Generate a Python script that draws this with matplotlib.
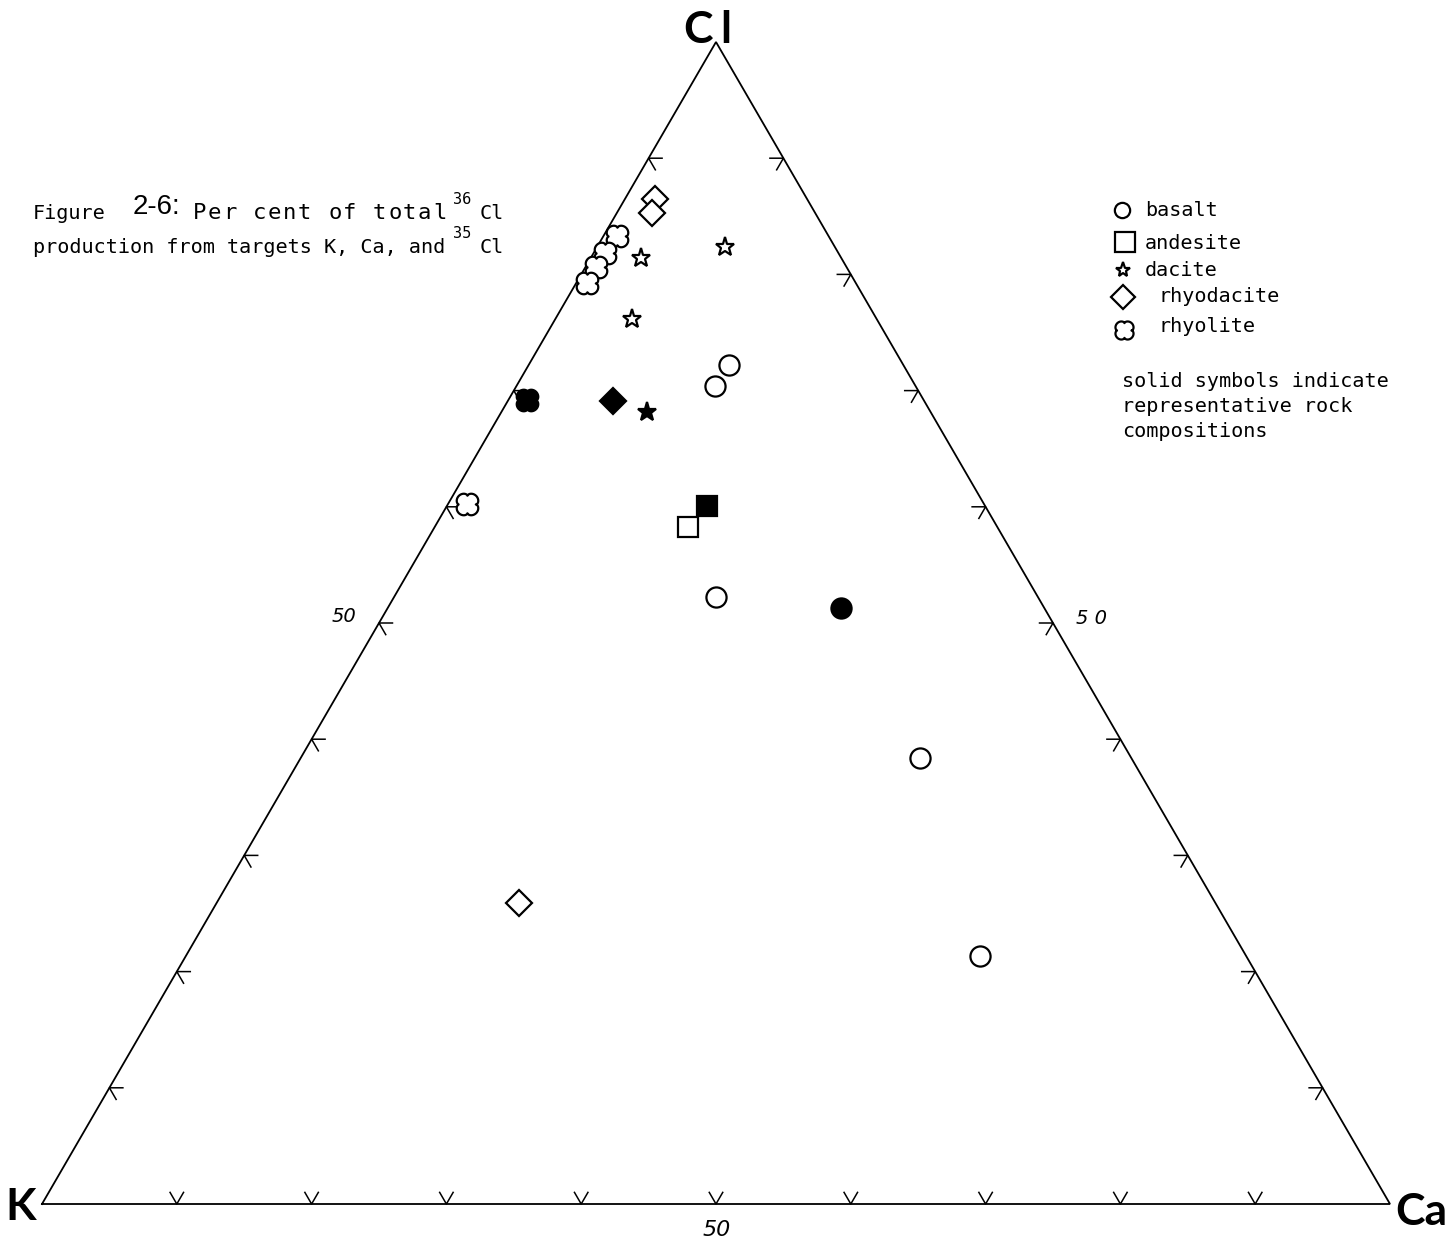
"""
Ternary plot: per cent of total 36Cl production from K, Ca and 35Cl targets
for a set of volcanic rock compositions.
"""
import numpy as np
import matplotlib
matplotlib.use("Agg")
import matplotlib.pyplot as plt
from matplotlib.path import Path

W, H = 1451, 1243

# per cent of production (K, Ca, Cl); open symbols are samples,
# the *_rep values are the representative compositions (solid symbols)
basalt_K = [12.9, 14.9, 23.9, 15.7, 19.8]
basalt_Ca = [14.9, 14.7, 23.9, 45.9, 58.9]
basalt_Cl = [72.2, 70.4, 52.2, 38.4, 21.3]
basalt_rep = (15.1, 33.6, 51.3)

andesite_K = [22.9]
andesite_Ca = [18.8]
andesite_Cl = [58.3]
andesite_rep = (20.6, 19.3, 60.1)

dacite_K = [8.1, 14.9, 18.1]
dacite_Ca = [9.5, 3.7, 5.7]
dacite_Cl = [82.4, 81.4, 76.2]
dacite_rep = (21.0, 10.8, 68.2)

rhyodacite_K = [11.3, 12.1, 51.7]
rhyodacite_Ca = [2.2, 2.6, 22.4]
rhyodacite_Cl = [86.5, 85.3, 25.9]
rhyodacite_rep = (23.1, 7.8, 69.1)

rhyolite_K = [15.7, 17.3, 18.6, 19.9, 38.4]
rhyolite_Ca = [1.0, 0.9, 0.8, 0.8, 1.4]
rhyolite_Cl = [83.3, 81.8, 80.6, 79.3, 60.2]
rhyolite_rep = (29.4, 1.4, 69.2)

TICKS = [10, 20, 30, 40, 50, 60, 70, 80, 90]
ROCKS = ["basalt", "andesite", "dacite", "rhyodacite", "rhyolite"]

S3 = np.sqrt(3) / 2


def tern(k, ca, cl):
    k, ca, cl = (np.asarray(v, float) for v in (k, ca, cl))
    tot = k + ca + cl
    ca, cl = 100 * ca / tot, 100 * cl / tot
    return ca + cl / 2, cl * S3


def lobed_cross():
    th = np.linspace(0, 2 * np.pi, 200)
    r = 0.68 + 0.32 * np.abs(np.sin(2 * th)) ** 0.5
    v = np.column_stack([r * np.cos(th), r * np.sin(th)])
    v = np.vstack([v, v[:1]])
    codes = [Path.MOVETO] + [Path.LINETO] * (len(v) - 2) + [Path.CLOSEPOLY]
    return Path(v, codes)


CROSS = lobed_cross()
MARKERS = {"basalt": ("o", 14.5), "andesite": ("s", 15),
           "dacite": ("*", 14), "rhyodacite": ("D", 13.5),
           "rhyolite": (CROSS, 15.5)}
LEGEND_MS = {"basalt": 11, "andesite": 15, "dacite": 11, "rhyodacite": 12, "rhyolite": 13}


def px(x, y):
    return x / W, 1 - y / H


fig = plt.figure(figsize=(W / 100, H / 100), dpi=100)
ax = fig.add_axes([0, 0, 1, 1])
sx, sy = 1348 / 100, 1162 / (100 * S3)
ax.set_xlim(-42 / sx, (W - 42) / sx)
ax.set_ylim(-(H - 1204) / sy, 1204 / sy)
ax.axis("off")

# triangle frame
ax.plot([0, 100, 50, 0], [0, 0, 100 * S3, 0], color="black", lw=1.3,
        solid_joinstyle="miter")

# 10 % ticks drawn along the grid directions, pointing inwards
L = 1.0
c60, s60 = 0.5, S3
for t in TICKS:
    x0, y0 = t, 0
    ax.plot([x0 - L * c60, x0, x0 + L * c60], [L * s60, 0, L * s60], color="black", lw=1.1)
    x0, y0 = t / 2, t * S3
    ax.plot([x0 + L, x0, x0 + L * c60], [y0, y0, y0 - L * s60], color="black", lw=1.1)
    x0, y0 = 100 - t / 2, t * S3
    ax.plot([x0 - L, x0, x0 - L * c60], [y0, y0, y0 - L * s60], color="black", lw=1.1)

data = {
    "basalt": (basalt_K, basalt_Ca, basalt_Cl, basalt_rep),
    "andesite": (andesite_K, andesite_Ca, andesite_Cl, andesite_rep),
    "dacite": (dacite_K, dacite_Ca, dacite_Cl, dacite_rep),
    "rhyodacite": (rhyodacite_K, rhyodacite_Ca, rhyodacite_Cl, rhyodacite_rep),
    "rhyolite": (rhyolite_K, rhyolite_Ca, rhyolite_Cl, rhyolite_rep),
}
for rock in ROCKS:
    k, ca, cl, rep = data[rock]
    m, ms = MARKERS[rock]
    x, y = tern(k, ca, cl)
    ax.plot(x, y, ls="none", marker=m, ms=ms, mfc="white", mec="black", mew=1.6, zorder=3)
    x, y = tern(*rep)
    ax.plot(x, y, ls="none", marker=m, ms=ms, mfc="black", mec="black", mew=1.6, zorder=3)

# corner labels
corner = dict(fontsize=32, fontweight="bold", family="Lato", color="black",
              va="center", ha="center")
fig.text(*px(21, 1207), "K", **corner)
fig.text(*px(1421, 1212), "Ca", **corner)
fig.text(*px(698, 30), "C", **corner)
fig.text(*px(726, 30), "l", **corner)

# scale labels
hand = dict(family="DejaVu Sans", style="italic", color="black", va="center", ha="center")
fig.text(*px(344, 616), "50", fontsize=14, **hand)
fig.text(*px(1092, 619), "5 0", fontsize=14, **hand)
fig.text(*px(717, 1230), "50", fontsize=16, **hand)

# caption
mono = dict(family="DejaVu Sans Mono", fontsize=14.5, color="black", va="baseline", ha="left")
small = dict(family="DejaVu Sans Mono", fontsize=11, color="black", va="baseline", ha="left")
fig.text(*px(33, 219), "Figure", **mono)
fig.text(*px(133, 214), "2-6:", family="Liberation Sans", fontsize=20, va="baseline", ha="left")
# first caption line is typed at a wider pitch
for i, ch in enumerate("Per cent of total"):
    fig.text(*px(193 + 15 * i, 219), ch, **dict(mono, fontsize=16))
fig.text(*px(453, 204), "36", **small)
fig.text(*px(480, 219), "Cl", **mono)
fig.text(*px(33, 253), "production from targets K, Ca, and", **mono)
fig.text(*px(453, 238), "35", **small)
fig.text(*px(480, 253), "Cl", **mono)

# legend
leg_items = [
    ("basalt", 1122, 210, 1145, 216),
    ("andesite", 1125, 242, 1145, 249),
    ("dacite", 1123, 270, 1145, 276),
    ("rhyodacite", 1123, 297, 1158, 302),
    ("rhyolite", 1124, 330, 1158, 332),
]
for rock, mx, my, tx, ty in leg_items:
    m, _ = MARKERS[rock]
    ax.plot([mx / W], [1 - my / H], transform=fig.transFigure, ls="none", marker=m,
            ms=LEGEND_MS[rock], mfc="white", mec="black", mew=1.6, clip_on=False)
    fig.text(*px(tx, ty), rock, **mono)

for i, line in enumerate(["solid symbols indicate", "representative rock", "compositions"]):
    fig.text(*px(1122, 387 + 25 * i), line, **mono)

fig.savefig("out.png", dpi=100, facecolor="white")
